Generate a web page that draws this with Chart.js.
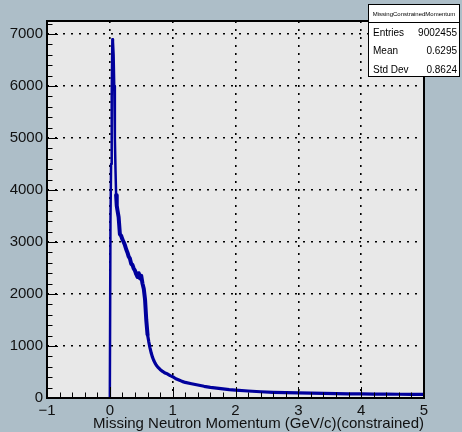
<!DOCTYPE html>
<html><head><meta charset="utf-8">
<script src="https://cdn.jsdelivr.net/npm/chart.js@4/dist/chart.umd.min.js"></script>
<style>html,body{margin:0;padding:0;background:#adbec8;overflow:hidden}#wrap{width:462px;height:432px}canvas{display:block}</style>
</head><body><div id="wrap"><canvas id="c" width="462" height="432"></canvas></div>
<script>
const binCenters = [0,0.01,0.02,0.03,0.04,0.05,0.06,0.07,0.08,0.09,0.10,0.11,
  0.12,0.14,0.16,0.18,0.20,0.22,0.24,0.26,0.28,0.30,0.32,0.34,0.36,0.38,0.40,0.42,0.44,0.46,0.48,0.50,0.52,0.54,0.56,0.58,0.60,0.62,0.64,0.66,0.68,0.70,0.72,0.74,0.76,0.78,0.80,0.84,0.88,0.92,0.96,1.00,
  1.05,1.10,1.15,1.20,1.30,1.40,1.50,1.60,1.70,1.80,1.90,2.00,2.2,2.4,2.6,2.8,3.0,3.2,3.4,3.6,3.8,4.0,4.2,4.4,4.6,4.8,5.0];
const counts = [0,3400,4500,5800,6900,6850,6600,6000,5000,4400,3900,3700,
  3620,3480,3150,3120,3050,3000,2940,2860,2800,2720,2680,2580,2560,2490,2450,2380,2330,2400,2300,2350,2200,2100,1900,1500,1220,1080,960,860,780,720,670,630,600,575,550,510,480,460,430,410,
  370,345,320,300,275,250,225,205,190,175,162,152,135,120,110,102,97,92,88,84,80,78,75,73,72,70,68];
const xTickValues = [-1,0,1,2,3,4,5];
const yTickValues = [0,1000,2000,3000,4000,5000,6000,7000];
const xMin = -1, xMax = 5, yMin = 0, yMax = 7250;
const xMinorStep = 0.2, yMinorStep = 200;
const xTitle = 'Missing Neutron Momentum (GeV/c)(constrained)';
const statsTitle = 'MissingConstrainedMomentum';
const statsLabels = ['Entries','Mean','Std Dev'];
const statsValues = ['9002455','0.6295','0.8624'];

const FONT = '"Liberation Sans", Arial, sans-serif';

const framePlugin = {
  id: 'frame',
  beforeDraw(chart) {
    const {ctx, chartArea: a} = chart;
    ctx.save();
    ctx.fillStyle = '#e8e8e8';
    ctx.fillRect(a.left, a.top, a.right - a.left, a.bottom - a.top);
    ctx.restore();
  },
  afterDraw(chart) {
    const {ctx, chartArea: a, scales} = chart;
    const xs = scales.x, ys = scales.y;
    ctx.save();
    ctx.strokeStyle = '#000';
    ctx.lineWidth = 1;
    const nx = Math.round((xMax - xMin) / xMinorStep);
    for (let i = 0; i <= nx; i++) {
      const v = xMin + i * xMinorStep;
      const major = Math.abs(v - Math.round(v)) < 1e-6;
      const px = Math.round(xs.getPixelForValue(v)) + 0.5;
      const len = major ? 11 : 5.5;
      ctx.beginPath(); ctx.moveTo(px, a.bottom); ctx.lineTo(px, a.bottom - len); ctx.stroke();
    }
    const ny = Math.floor((yMax - yMin) / yMinorStep);
    for (let i = 0; i <= ny; i++) {
      const v = yMin + i * yMinorStep;
      const major = v % 1000 === 0;
      const py = Math.round(ys.getPixelForValue(v)) + 0.5;
      const len = major ? 11 : 5.5;
      ctx.beginPath(); ctx.moveTo(a.left, py); ctx.lineTo(a.left + len, py); ctx.stroke();
    }
    ctx.lineWidth = 2;
    ctx.strokeRect(a.left, a.top, a.right - a.left, a.bottom - a.top);
    const bx = 368.5, by = 4.5, bw = 91, bh = 72;
    ctx.fillStyle = '#fff';
    ctx.fillRect(bx, by, bw, bh);
    ctx.lineWidth = 1;
    ctx.strokeRect(bx, by, bw, bh);
    ctx.beginPath(); ctx.moveTo(bx, 22.5); ctx.lineTo(bx + bw, 22.5); ctx.stroke();
    ctx.fillStyle = '#000';
    ctx.textBaseline = 'middle';
    ctx.font = '6px ' + FONT;
    ctx.textAlign = 'center';
    ctx.fillText(statsTitle, bx + bw / 2, 14);
    ctx.font = '10px ' + FONT;
    const rows = [33, 51.5, 70.5];
    statsLabels.forEach((l, i) => {
      ctx.textAlign = 'left';
      ctx.fillText(l, 373, rows[i]);
      ctx.textAlign = 'right';
      ctx.fillText(statsValues[i], 457, rows[i]);
    });
    ctx.restore();
  }
};

new Chart(document.getElementById('c'), {
  type: 'line',
  data: {
    datasets: [{
      data: binCenters.map((x, i) => ({x: x, y: counts[i]})),
      borderColor: '#00009c',
      borderWidth: 2.5,
      borderJoinStyle: 'round',
      borderCapStyle: 'round',
      segment: {
        borderWidth: c => (c.p0.parsed.x >= 0.1 && c.p0.parsed.x < 0.6) ? 4 : (c.p0.parsed.x >= 0.6 ? 3.2 : 2.5)
      },
      pointRadius: 0,
      tension: 0,
      fill: false
    }]
  },
  options: {
    responsive: false,
    devicePixelRatio: 1,
    animation: false,
    layout: {padding: {left: 0, top: 21, right: 38, bottom: 0}},
    plugins: {legend: {display: false}, tooltip: {enabled: false}},
    scales: {
      x: {
        type: 'linear', min: xMin, max: xMax,
        afterFit(s) { s.height = 34; },
        afterBuildTicks(s) { s.ticks = xTickValues.map(v => ({value: v})); },
        ticks: {
          color: '#111', padding: 4,
          font: {family: FONT, size: 15},
          maxRotation: 0, autoSkip: false,
          callback: v => v < 0 ? '\u2212' + Math.abs(v) : String(v)
        },
        grid: {color: '#000', lineWidth: 1.6, drawTicks: false},
        border: {display: false, dash: [2, 6]},
        title: {display: true, text: xTitle, align: 'end', color: '#111',
          font: {family: FONT, size: 15}, padding: {top: 0, bottom: -1}}
      },
      y: {
        type: 'linear', min: yMin, max: yMax,
        afterFit(s) { s.width = 47; },
        afterBuildTicks(s) { s.ticks = yTickValues.map(v => ({value: v})); },
        ticks: {
          color: '#111', padding: 4,
          font: {family: FONT, size: 15},
          callback: v => String(v)
        },
        grid: {color: '#000', lineWidth: 1.6, drawTicks: false},
        border: {display: false, dash: [2, 6]}
      }
    }
  },
  plugins: [framePlugin]
});
</script></body></html>
